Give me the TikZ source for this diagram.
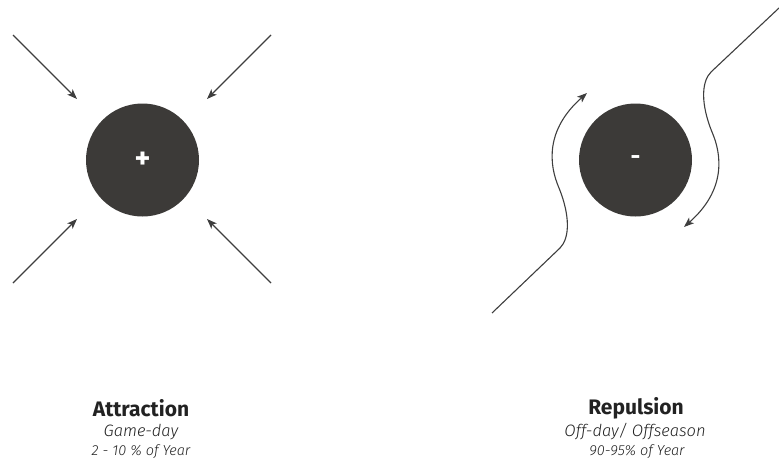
\documentclass[tikz,border=0pt]{standalone}
\usepackage{fontspec}
\setmainfont{Fira Sans}
\newfontfamily\headfont{Fira Sans}
\newfontfamily\subfont{Fira Sans Light}
\usetikzlibrary{arrows.meta}
\definecolor{ink}{HTML}{3C3A38}
\definecolor{wire}{HTML}{3E3E3E}
\definecolor{txt}{HTML}{222222}
\tikzset{
  charge/.style={circle, fill=ink, minimum size=113pt, inner sep=0pt,
    text=white, font=\bfseries},
  flow/.style={draw=wire, line width=1.1pt,
    -{Stealth[length=10pt,width=7.5pt,inset=2.5pt]}},
  title/.style={text=txt, font=\headfont\fontsize{21}{21}\selectfont\bfseries},
  sub/.style={text=txt, font=\subfont\fontsize{16.5}{16.5}\selectfont\itshape},
  note/.style={text=txt, font=\subfont\fontsize{14.5}{14.5}\selectfont\itshape},
}
\begin{document}
\begin{tikzpicture}[x=1pt, y=-1pt]
  \useasboundingbox (0,0) rectangle (779,461);

  % --- attraction: four arrows pointing at the charge
  \node[charge] (plus) at (142.5,160) {\fontsize{30}{30}\selectfont +};
  \coordinate (a1s) at (13,35);   \coordinate (a1e) at (77,99);
  \coordinate (a2s) at (271,35);  \coordinate (a2e) at (207,99);
  \coordinate (a3s) at (13,283);  \coordinate (a3e) at (77,219);
  \coordinate (a4s) at (271,283); \coordinate (a4e) at (207,219);
  \draw[flow] (a1s) -- (a1e);
  \draw[flow] (a2s) -- (a2e);
  \draw[flow] (a3s) -- (a3e);
  \draw[flow] (a4s) -- (a4e);

  % --- repulsion: two paths swerving around the charge
  \node[charge] (minus) at (635.5,160) {\fontsize{24}{24}\selectfont\raisebox{-2pt}{-}};
  \coordinate (r1s) at (492,313); \coordinate (r1k) at (560,248);
  \coordinate (r1m) at (559,188); \coordinate (r1e) at (587,93);
  \coordinate (r2s) at (779,8);   \coordinate (r2k) at (711,72);
  \coordinate (r2m) at (712,132); \coordinate (r2e) at (684,227);
  \draw[flow] (r1s) -- (r1k)
    .. controls (570,238) and (570,215) .. (r1m)
    .. controls (549,165) and (545,130) .. (r1e);
  \draw[flow] (r2s) -- (r2k)
    .. controls (701,82) and (701,105) .. (r2m)
    .. controls (722,155) and (726,190) .. (r2e);

  % --- captions
  \node[title] (t1) at (141,408) {Attraction};
  \node[sub]   (s1) at (141,432) {Game-day};
  \node[note]  (n1) at (141,452) {2 - 10 \% of Year};
  \node[title] (t2) at (636,408) {Repulsion};
  \node[sub]   (s2) at (635,432) {Off-day/ Offseason};
  \node[note]  (n2) at (637,452) {90-95\% of Year};
\end{tikzpicture}
\end{document}
